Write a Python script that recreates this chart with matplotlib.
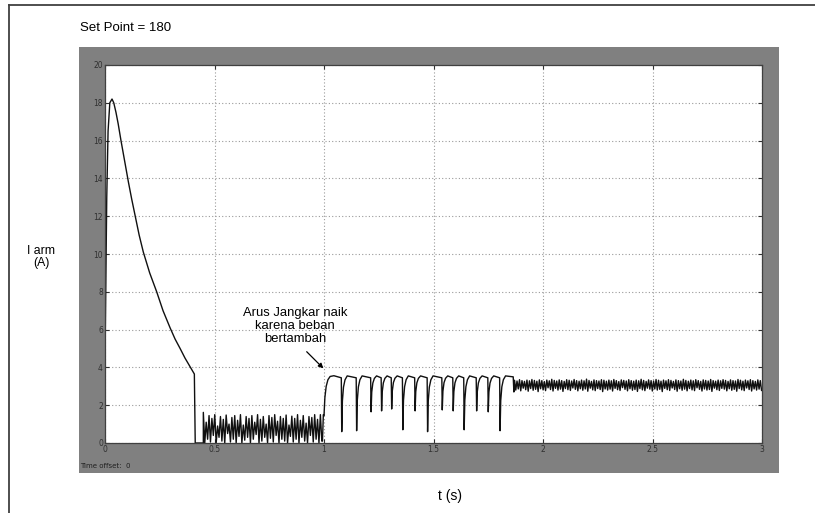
import numpy as np
import matplotlib
matplotlib.use('Agg')
import matplotlib.pyplot as plt
from matplotlib.patches import Rectangle
from matplotlib.lines import Line2D

plt.rcParams['font.family'] = ['Liberation Sans', 'DejaVu Sans']

# start-up transient (time in s, armature current in A)
start_t = [0.0, 0.0005, 0.004, 0.008, 0.014, 0.022, 0.032, 0.040, 0.050, 0.060,
           0.073, 0.090, 0.107, 0.122, 0.138, 0.156, 0.175, 0.204, 0.236, 0.265,
           0.297, 0.320, 0.343, 0.365, 0.388, 0.408]
start_i = [0.0, 5.0, 9.0, 13.0, 16.5, 18.0, 18.2, 18.0, 17.5, 16.9,
           16.0, 14.9, 13.8, 12.9, 12.0, 11.0, 10.1, 9.0, 8.0, 7.0,
           6.1, 5.5, 5.0, 4.5, 4.05, 3.65]

# chattering between 0.45 s and 1.0 s
chatter_peak = [1.62, 1.10, 1.45, 1.30, 1.50, 0.90, 1.40, 1.25, 1.48, 1.00,
                1.35, 1.45, 1.20, 1.50, 0.95, 1.40, 1.30, 1.45, 1.10, 1.50,
                1.25, 1.40, 1.00, 1.45, 1.35, 1.50, 1.15, 1.40, 1.30, 1.48,
                0.95, 1.42, 1.30, 1.50, 1.20, 1.45, 1.05, 1.40, 1.35, 1.50,
                1.25, 1.50]
chatter_trough = [0.00, 0.20, 0.05, 0.40, 0.00, 0.30, 0.10, 0.00, 0.50, 0.05,
                  0.20, 0.00, 0.35, 0.00, 0.15, 0.30, 0.00, 0.20, 0.45, 0.00,
                  0.10, 0.30, 0.00, 0.25, 0.05, 0.40, 0.00, 0.20, 0.10, 0.00,
                  0.35, 0.05, 0.20, 0.00, 0.30, 0.10, 0.00, 0.40, 0.05, 0.20,
                  0.00, 0.10]

# load step at 1 s
rise_t = [0.993, 0.997, 1.000, 1.004, 1.010, 1.018, 1.028, 1.045]
rise_i = [0.10, 1.50, 1.45, 2.40, 3.00, 3.35, 3.52, 3.56]
plateau = 3.55
plateau_end = 3.45
dip_t = [1.081, 1.149, 1.215, 1.263, 1.309, 1.360, 1.416, 1.473, 1.540, 1.590,
         1.640, 1.697, 1.750, 1.804]
dip_i = [0.60, 0.65, 1.65, 1.70, 1.80, 0.70, 1.70, 0.60, 1.75, 1.70,
         0.70, 1.70, 1.65, 0.65]
recov_dt = [0.003, 0.008, 0.015, 0.025]
recov_frac = [0.55, 0.80, 0.93, 1.00]

# steady ripple after ~1.87 s
osc_start, osc_end = 1.870, 2.998
osc_peak = [3.32, 3.28, 3.35, 3.30, 3.26, 3.33, 3.29, 3.36, 3.31, 3.27,
            3.34, 3.30, 3.25, 3.33, 3.29, 3.37, 3.31, 3.28, 3.34, 3.30,
            3.26, 3.35, 3.32, 3.28, 3.36, 3.30, 3.27, 3.33, 3.29, 3.38,
            3.31, 3.26, 3.34, 3.30, 3.28, 3.35, 3.32, 3.27, 3.33, 3.29,
            3.36, 3.30, 3.25, 3.34, 3.31, 3.28, 3.35, 3.30, 3.27, 3.33,
            3.29, 3.37, 3.31, 3.26, 3.34, 3.30, 3.28, 3.36, 3.32, 3.27,
            3.33, 3.29, 3.35, 3.31, 3.26, 3.34, 3.30, 3.28, 3.37, 3.31,
            3.27, 3.33, 3.29, 3.35, 3.30, 3.26, 3.34, 3.31, 3.28, 3.36,
            3.30, 3.27, 3.33, 3.29, 3.35, 3.31, 3.26, 3.34, 3.30, 3.28,
            3.36, 3.32, 3.27, 3.33, 3.29, 3.35, 3.30, 3.26, 3.34, 3.30]
osc_trough = [2.80, 2.86, 2.76, 2.90, 2.82, 2.74, 2.88, 2.79, 2.84, 2.72,
              2.87, 2.81, 2.77, 2.92, 2.83, 2.75, 2.89, 2.80, 2.85, 2.73,
              2.88, 2.82, 2.78, 2.91, 2.84, 2.76, 2.87, 2.79, 2.86, 2.74,
              2.90, 2.81, 2.77, 2.88, 2.83, 2.72, 2.86, 2.80, 2.85, 2.75,
              2.89, 2.82, 2.78, 2.93, 2.84, 2.76, 2.87, 2.79, 2.83, 2.73,
              2.88, 2.81, 2.77, 2.90, 2.85, 2.75, 2.86, 2.80, 2.84, 2.72,
              2.89, 2.82, 2.78, 2.91, 2.83, 2.74, 2.87, 2.79, 2.85, 2.76,
              2.88, 2.81, 2.77, 2.92, 2.84, 2.75, 2.86, 2.80, 2.83, 2.73,
              2.90, 2.82, 2.78, 2.89, 2.85, 2.76, 2.87, 2.79, 2.84, 2.74,
              2.88, 2.81, 2.77, 2.91, 2.83, 2.75, 2.86, 2.80, 2.85, 2.78]

x_ticks = [0, 0.5, 1, 1.5, 2, 2.5, 3]
x_tick_labels = ['0', '0.5', '1', '1.5', '2', '2.5', '3']
y_ticks = list(range(0, 21, 2))
y_tick_labels = [str(v) for v in y_ticks]

# build the trace
t = list(start_t)
i = list(start_i)
t += [0.412, 0.449]
i += [0.0, 0.0]
ch_t = np.linspace(0.449, 0.990, 2 * len(chatter_peak))
for k in range(len(chatter_peak)):
    t += [ch_t[2 * k], ch_t[2 * k + 1]]
    i += [chatter_peak[k], chatter_trough[k]]
t += rise_t
i += rise_i
for td, d in zip(dip_t, dip_i):
    t += [td - 0.002, td]
    i += [plateau_end, d]
    for dt, f in zip(recov_dt, recov_frac):
        t.append(td + dt)
        i.append(d + (plateau - d) * f)
t += [1.864, 1.867]
i += [3.50, 2.70]
os_t = np.linspace(osc_start, osc_end, 2 * len(osc_peak))
for k in range(len(osc_peak)):
    t += [os_t[2 * k], os_t[2 * k + 1]]
    i += [osc_peak[k], osc_trough[k]]

W, H = 815, 513
fig = plt.figure(figsize=(W / 100, H / 100), dpi=100)
fig.patch.set_facecolor('white')


def fx(px):
    return px / W


def fy(py):
    return 1 - py / H


# outer frame (top and left edges only)
fig.add_artist(Line2D([fx(9), fx(815)], [fy(5), fy(5)], color='#404040', lw=1.3))
fig.add_artist(Line2D([fx(9), fx(9)], [fy(5), fy(513)], color='#404040', lw=1.3))

# grey scope panel
fig.add_artist(Rectangle((fx(79), fy(473)), fx(779) - fx(79), fy(47) - fy(473),
                         transform=fig.transFigure, facecolor='#808080',
                         edgecolor='none', zorder=0))

ax = fig.add_axes([fx(105), fy(443), fx(762) - fx(105), fy(65) - fy(443)])
ax.set_facecolor('white')
ax.plot(t, i, color='#101010', lw=1.0)
ax.set_xlim(0, 3)
ax.set_ylim(0, 20)
ax.set_xticks(x_ticks)
ax.set_xticklabels(x_tick_labels)
ax.set_yticks(y_ticks)
ax.set_yticklabels(y_tick_labels)
ax.tick_params(direction='in', length=3, width=0.8, colors='#303030',
               labelsize=5.5, top=True, right=True, pad=1.5)
for lab in ax.get_xticklabels() + ax.get_yticklabels():
    lab.set_family('DejaVu Sans')
for s in ax.spines.values():
    s.set_color('#404040')
    s.set_linewidth(0.9)
ax.grid(True, color='#9a9a9a', linestyle=(0, (1, 2)), linewidth=0.8)

ax.text(0.868, 6.2, 'Arus Jangkar naik\nkarena beban\nbertambah',
        ha='center', va='center', fontsize=9.4, linespacing=1.1)
ax.annotate('', xy=(0.997, 3.95), xytext=(0.921, 4.83),
            arrowprops=dict(arrowstyle='-|>', color='black', lw=0.9,
                            mutation_scale=7, shrinkA=0, shrinkB=0))

fig.text(fx(80), fy(28), 'Set Point = 180', ha='left', va='center', fontsize=9.5)
fig.text(fx(41), fy(257), 'I arm\n(A)', ha='center', va='center', fontsize=8.8,
         linespacing=1.0)
fig.text(fx(450), fy(496), 't (s)', ha='center', va='center', fontsize=10)
fig.text(fx(80), fy(466), 'Time offset:  0', ha='left', va='center',
         fontsize=5, family='DejaVu Sans', color='#202020')

fig.savefig('out.png', dpi=100)
